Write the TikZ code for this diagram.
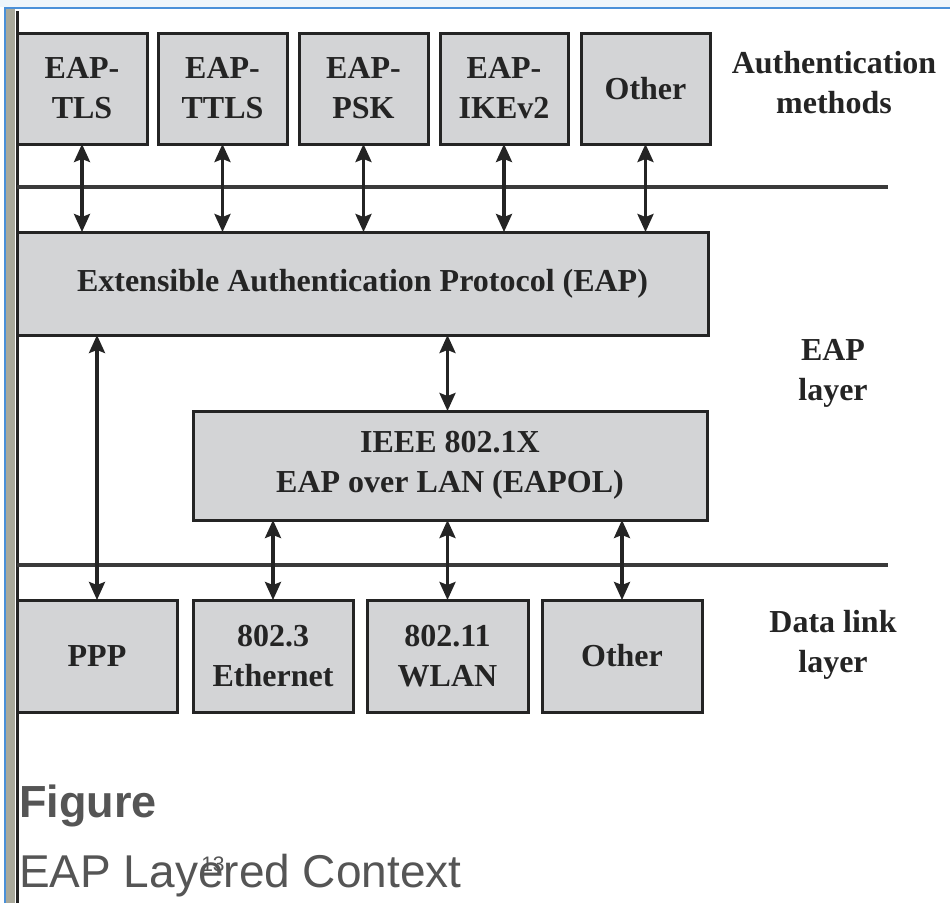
\documentclass[tikz,border=0pt]{standalone}
\usepackage{fontspec}
\setmainfont{Liberation Serif}
\newfontfamily\capfont{Liberation Sans}
\usetikzlibrary{arrows.meta}
\definecolor{boxfill}{HTML}{D3D4D6}
\definecolor{boxline}{HTML}{242424}
\definecolor{frameblue}{HTML}{4A90D9}
\definecolor{framegray}{HTML}{A9A99B}
\definecolor{capgray}{HTML}{555555}
\definecolor{topblue}{HTML}{EEF5FB}
\tikzset{
  layerbox/.style={draw=boxline, fill=boxfill, line width=3pt, inner sep=0pt, outer sep=0pt,
    align=center, font=\fontsize{32}{40}\selectfont\bfseries, text=boxline},
  sidelabel/.style={align=center, font=\fontsize{32}{40}\selectfont\bfseries, text=boxline, inner sep=0pt},
  dbl/.style={line width=3.2pt, draw=boxline, {Stealth[length=18pt,width=16pt,inset=3pt]}-{Stealth[length=18pt,width=16pt,inset=3pt]}},
  sepline/.style={line width=3.2pt, draw=boxline!90}
}
\begin{document}
\begin{tikzpicture}[x=1pt,y=-1pt]
\useasboundingbox (0,0) rectangle (950,903);
% frame / screenshot border
\fill[topblue] (0,0) rectangle (950,7);
\fill[framegray] (6,9) rectangle (15,903);
\draw[frameblue, line width=2pt] (5,903) -- (5,8) -- (950,8);
\draw[boxline, line width=3pt] (17,11) -- (17,903);

% top row: authentication methods
\node[layerbox, minimum width=130pt, minimum height=111pt] (tls) at (82,88.5) {EAP-\\TLS};
\node[layerbox, minimum width=129pt, minimum height=111pt] (ttls) at (222.5,88.5) {EAP-\\TTLS};
\node[layerbox, minimum width=129pt, minimum height=111pt] (psk) at (363.5,88.5) {EAP-\\PSK};
\node[layerbox, minimum width=128pt, minimum height=111pt] (ikev2) at (504,88.5) {EAP-\\IKEv2};
\node[layerbox, minimum width=129pt, minimum height=111pt] (otherA) at (645.5,88.5) {Other};
\node[sidelabel] (authlbl) at (834,83) {Authentication\\methods};

% separator lines
\coordinate (s1a) at (17,187);
\coordinate (s1b) at (888,187);
\coordinate (s2a) at (17,565);
\coordinate (s2b) at (888,565);
\draw[sepline] (s1a) -- (s1b);
\draw[sepline] (s2a) -- (s2b);

% EAP
\node[layerbox, minimum width=691pt, minimum height=103pt] (eap) at (362.5,283.5) {Extensible Authentication Protocol (EAP)};
\node[sidelabel] (eaplbl) at (833,373) {EAP\\layer};

% EAPOL
\node[layerbox, minimum width=514pt, minimum height=109pt] (eapol) at (450,465.5) {IEEE 802.1X\\EAP over LAN (EAPOL)};

% bottom row
\node[layerbox, minimum width=160pt, minimum height=112pt] (ppp) at (97,656) {PPP};
\node[layerbox, minimum width=160pt, minimum height=112pt] (eth) at (273,656) {802.3\\Ethernet};
\node[layerbox, minimum width=161pt, minimum height=112pt] (wlan) at (447.5,656) {802.11\\WLAN};
\node[layerbox, minimum width=160pt, minimum height=112pt] (otherB) at (622,656) {Other};
\node[sidelabel] (dllbl) at (833,645) {Data link\\layer};

% arrows top -> EAP
\foreach \n in {tls,ttls,psk,ikev2,otherA}
  \draw[dbl] (\n.south) -- (\n.south |- eap.north);
% EAP -> PPP and EAPOL
\draw[dbl] (ppp.north |- eap.south) -- (ppp.north);
\draw[dbl] (wlan.north |- eap.south) -- (wlan.north |- eapol.north);
% EAPOL -> link layer
\foreach \n in {eth,wlan,otherB}
  \draw[dbl] (\n.north |- eapol.south) -- (\n.north);

% caption
\node[anchor=base west, inner sep=0pt, text=capgray, font=\capfont\fontsize{45}{50}\selectfont\bfseries] (figw) at (19,817) {Figure};
\node[anchor=base west, inner sep=0pt, text=capgray, font=\capfont\fontsize{46}{50}\selectfont] (capt) at (19,887) {EAP Layered Context};
\node[inner sep=0pt, text=capgray, font=\capfont\fontsize{21}{24}\selectfont] (pgno) at (213,864) {13};
\end{tikzpicture}
\end{document}
